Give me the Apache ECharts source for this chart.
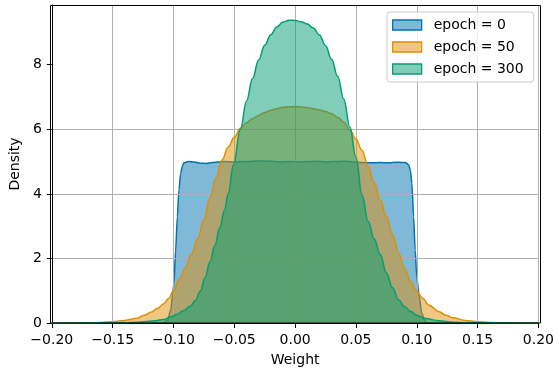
<!DOCTYPE html>
<html>
<head>
<meta charset="utf-8">
<script src="https://cdn.jsdelivr.net/npm/echarts@6/dist/echarts.min.js"></script>
<style>
  html, body { margin: 0; padding: 0; background: #fff; }
  #chart { width: 557px; height: 374px; }
</style>
</head>
<body>
<div id="chart"></div>
<script>
// Kernel density estimates of layer weights at three training epochs
const seriesNames = ['epoch = 0', 'epoch = 50', 'epoch = 300'];

const weightsE0 = [-0.20, -0.11, -0.108, -0.1049, -0.1022, -0.1009, -0.0996, -0.0982, -0.0968, -0.0955,
  -0.0941, -0.0925, -0.0914, -0.088, -0.083, -0.078, -0.073, -0.068, -0.063, -0.058,
  -0.05, -0.042, -0.035, -0.028, -0.02, -0.012, -0.005, 0.003, 0.01, 0.018,
  0.025, 0.032, 0.04, 0.048, 0.055, 0.062, 0.07, 0.077, 0.084, 0.0906,
  0.0933, 0.0947, 0.096, 0.0974, 0.0987, 0.1, 0.102, 0.1041, 0.107, 0.11, 0.20];
const densityE0 = [0, 0, 0.01, 0.09, 0.4, 0.81, 1.23, 2.26, 3.29, 4.12,
  4.63, 4.88, 4.96, 5.0, 4.99, 4.95, 4.94, 4.97, 4.99, 5.0,
  4.99, 5.0, 5.01, 5.02, 5.01, 4.99, 5.0, 4.99, 5.0, 5.01,
  4.99, 5.0, 5.01, 4.99, 4.97, 4.96, 4.97, 4.96, 4.98, 4.97,
  4.9, 4.74, 4.33, 3.29, 2.26, 1.43, 0.81, 0.3, 0.04, 0, 0];

const weightsE50 = [-0.20, -0.17, -0.16, -0.15, -0.14, -0.13, -0.124, -0.118, -0.113, -0.108,
  -0.104, -0.10, -0.095, -0.09, -0.085, -0.08, -0.075, -0.07, -0.065, -0.06,
  -0.055, -0.05, -0.045, -0.04, -0.035, -0.03, -0.025, -0.02, -0.015, -0.01,
  -0.005, 0, 0.005, 0.01, 0.015, 0.02, 0.025, 0.03, 0.035, 0.04,
  0.045, 0.05, 0.055, 0.06, 0.065, 0.07, 0.075, 0.08, 0.085, 0.09,
  0.095, 0.10, 0.105, 0.11, 0.118, 0.124, 0.13, 0.14, 0.15, 0.16, 0.17, 0.20];
const densityE50 = [0, 0.005, 0.015, 0.04, 0.08, 0.15, 0.24, 0.34, 0.46, 0.6,
  0.76, 1.0, 1.36, 1.72, 2.15, 2.62, 3.2, 3.88, 4.5, 5.05,
  5.45, 5.75, 6.03, 6.2, 6.33, 6.43, 6.52, 6.59, 6.64, 6.68,
  6.7, 6.7, 6.69, 6.67, 6.64, 6.6, 6.55, 6.48, 6.37, 6.22,
  5.98, 5.7, 5.35, 4.85, 4.35, 3.8, 3.3, 2.75, 2.17, 1.68,
  1.28, 0.98, 0.76, 0.55, 0.36, 0.24, 0.16, 0.08, 0.04, 0.015, 0.005, 0];

const weightsE300 = [-0.20, -0.14, -0.13, -0.124, -0.115, -0.108, -0.102, -0.097, -0.092, -0.086,
  -0.082, -0.078, -0.074, -0.07, -0.066, -0.062, -0.058, -0.055, -0.0507, -0.045,
  -0.04, -0.035, -0.03, -0.025, -0.02, -0.015, -0.01, -0.005, 0, 0.005,
  0.01, 0.015, 0.02, 0.025, 0.03, 0.035, 0.04, 0.045, 0.05, 0.055,
  0.06, 0.065, 0.07, 0.075, 0.08, 0.085, 0.09, 0.095, 0.10, 0.107,
  0.118, 0.13, 0.14, 0.20];
const densityE300 = [0, 0.005, 0.02, 0.04, 0.07, 0.11, 0.19, 0.27, 0.38, 0.52,
  0.7, 0.98, 1.4, 1.9, 2.4, 2.95, 3.5, 4.0, 4.9, 6.0,
  6.87, 7.57, 8.15, 8.6, 8.93, 9.17, 9.32, 9.38, 9.37, 9.33,
  9.26, 9.14, 8.92, 8.59, 8.17, 7.64, 6.94, 6.07, 5.13, 3.97,
  3.15, 2.6, 2.12, 1.55, 1.1, 0.72, 0.5, 0.36, 0.24, 0.14,
  0.07, 0.02, 0.005, 0];

const yTicks = [0, 2, 4, 6, 8];
const lineColors = ['#0173b2', '#de8f05', '#029e73'];
const fillColors = ['rgba(1,115,178,0.5)', 'rgba(222,143,5,0.5)', 'rgba(2,158,115,0.5)'];
const smoothness = [0.25, 0.4, 0.4];

const weightSets = [weightsE0, weightsE50, weightsE300];
const densitySets = [densityE0, densityE50, densityE300];

const FONT = 'DejaVu Sans';
const fmtX = v => (v < -1e-9 ? '\u2212' : '') + Math.abs(v).toFixed(2);

const chart = echarts.init(document.getElementById('chart'), null, { renderer: 'canvas' });

const series = seriesNames.map((name, i) => ({
  name: name,
  type: 'line',
  data: weightSets[i].map((w, k) => [w, densitySets[i][k]]),
  showSymbol: false,
  symbol: 'none',
  smooth: smoothness[i],
  smoothMonotone: 'x',
  lineStyle: { color: lineColors[i], width: 1.5 },
  itemStyle: { color: lineColors[i] },
  areaStyle: { color: fillColors[i], opacity: 1 },
  z: 2 + i
}));

chart.setOption({
  animation: false,
  backgroundColor: '#ffffff',
  textStyle: { fontFamily: FONT },
  grid: { left: 50, right: 16, top: 5, bottom: 51, containLabel: false },
  xAxis: {
    type: 'value',
    min: -0.2, max: 0.2, interval: 0.05,
    z: 3,
    name: 'Weight',
    nameLocation: 'middle',
    nameGap: 30,
    nameTextStyle: { fontFamily: FONT, fontSize: 14, color: '#000' },
    axisLine: { show: true, onZero: false, lineStyle: { color: '#000', width: 1 } },
    axisTick: { show: true, inside: false, length: 5, lineStyle: { color: '#000', width: 1 } },
    axisLabel: { formatter: fmtX, margin: 10, fontFamily: FONT, fontSize: 14, color: '#000' },
    splitLine: { show: true, lineStyle: { color: '#b0b0b0', width: 1 } }
  },
  yAxis: {
    type: 'value',
    min: 0, max: 9.85,
    z: 3,
    name: 'Density',
    nameLocation: 'middle',
    nameGap: 24,
    nameRotate: 90,
    nameTextStyle: { fontFamily: FONT, fontSize: 14, color: '#000' },
    axisLine: { show: true, onZero: false, lineStyle: { color: '#000', width: 1 } },
    axisTick: { show: true, inside: false, length: 5, customValues: yTicks, lineStyle: { color: '#000', width: 1 } },
    axisLabel: { customValues: yTicks, margin: 10, fontFamily: FONT, fontSize: 14, color: '#000' },
    splitLine: { show: true, showMaxLine: false, lineStyle: { color: '#b0b0b0', width: 1 } }
  },
  legend: {
    left: 387, top: 12,
    orient: 'vertical',
    padding: [6, 10, 6, 5],
    itemGap: 8,
    itemWidth: 29,
    itemHeight: 10,
    icon: 'rect',
    backgroundColor: 'rgba(255,255,255,0.8)',
    borderColor: '#cccccc',
    borderWidth: 1,
    borderRadius: 3,
    textStyle: { fontFamily: FONT, fontSize: 14, color: '#000', padding: [0, 0, 0, 7] },
    data: seriesNames.map((name, i) => ({
      name: name,
      icon: 'rect',
      itemStyle: { color: fillColors[i], borderColor: lineColors[i], borderWidth: 1.3 }
    })),
    z: 6
  },
  graphic: [{
    type: 'rect',
    z: 100,
    silent: true,
    shape: { x: 50.5, y: 5.5, width: 490, height: 317.5 },
    style: { fill: null, stroke: '#000', lineWidth: 1 }
  }],
  series: series
});
</script>
</body>
</html>
